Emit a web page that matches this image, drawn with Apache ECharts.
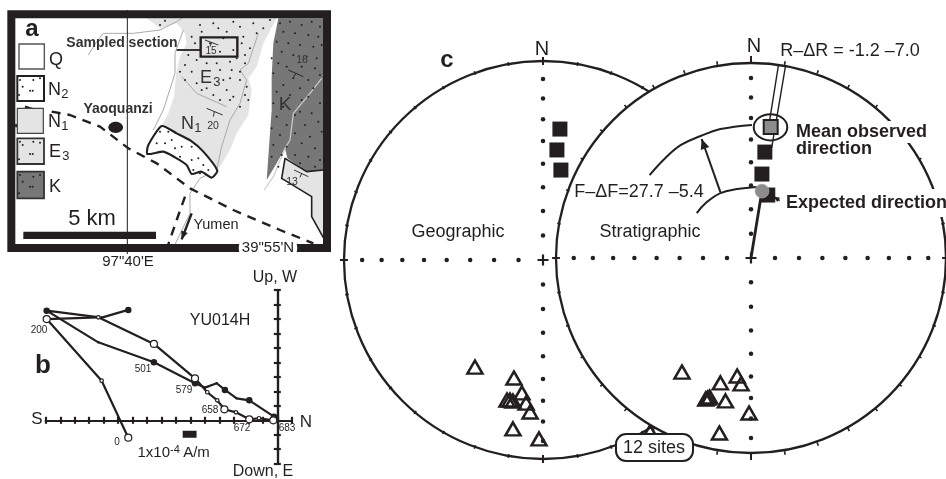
<!DOCTYPE html>
<html><head><meta charset="utf-8">
<style>html,body{margin:0;padding:0;background:#fff}#c{width:946px;height:479px}</style>
<script src="https://cdn.jsdelivr.net/npm/echarts@6/dist/echarts.min.js"></script>
</head><body><div id="c"></div>
<script>
// ---------- panel c: stereonet data, in percent of net radius (x east, y north) ----------
const stereoAxisTicks = [12.3, 24.6, 36.6, 48.4, 59.8, 70.7, 81.1, 90.9];
const rimAzimuths = [0,10,20,30,40,50,60,70,80,90,100,110,120,130,140,150,160,170,180,190,200,210,220,230,240,250,260,270,280,290,300,310,320,330,340,350];
const geoNormalSites = [[8.5,65.8],[7,55.3],[9,45.2]];
const geoReversedSites = [[-34.2,-53.8],[-14.6,-59.3],[-10.6,-66.8],[-18.1,-70.4],[-16.6,-70.4],[-15.1,-70.9],[-8.5,-71.9],[-6.5,-76.4],[-15.1,-84.9],[-2,-89.9],[53.8,-86.4]];
const stratNormalSites = [[7.1,53.5],[5.6,42.4],[8.6,31.8]];
const stratReversedSites = [[-35.4,-57.6],[-15.7,-63.1],[-7.1,-59.6],[-5.1,-63.6],[-23.2,-71.2],[-22.2,-70.7],[-21.2,-70.2],[-13.1,-72.2],[-1,-78.3],[-16.2,-88.4]];
const meanObserved = [[10.1,66.2]];
const expectedDir = [[5.6,33.8]];
const expectedLine = [[0,0],[5.6,33.8]];
const rotationLineA = [[14.1,97.5],[8.6,63.6]];
const rotationLineB = [[17.7,97],[10.6,55.6]];
const outerArc = [[-52,41.9],[-43.9,50.5],[-35.9,57.1],[-25.8,61.6],[-15.7,65.1],[0.5,67.2]];
const innerArc = [[-27.8,22.7],[-23.2,27.8],[-15.7,32.8],[-7.1,34.8],[3,35.9]];
const flatteningArrow = [[-15.7,33.3],[-25.3,60.1]];
const expectedLeader = [[14.7,29],[11.6,31]];

// ---------- panel b: Zijderveld diagram, units of 1e-4 A/m ----------
const horizontalPlane = [[-10.3,7.63],[-12.14,7.1],[-15.94,7.58],[-12.37,5.39],[-8.53,4.01],[-5.69,2.56],[-5,2.26],[-4.19,2.56],[-3.62,2.1],[-2.81,1.52],[-1.94,1.38],[-0.23,0.25]];
const horizontalBig = [1,0,1,0,1,1,0,0,1,0,1,1];
const verticalPlane = [[-10.3,-1.2],[-12.14,2.74],[-15.94,7],[-12.37,7.12],[-8.53,5.28],[-5.69,2.9],[-4.84,1.94],[-4.15,1.38],[-3.66,0.76],[-2.86,0.55],[-1.94,0.07],[-1.27,0.14],[-0.28,0]];
const verticalBig = [1,0,1,0,1,1,0,0,1,0,1,0,1];
const intensityBar = [[-6.54,-0.97],[-5.58,-0.97]];

// ---------- panel a: geological map, in map units ----------
const outcropN1E3 = [[440,55],[480,85],[530,70],[555,100],[560,130],[540,170],[528,220],[522,290],[505,340],[485,378],[570,420],[650,510],[660,500],[690,450],[710,400],[745,345],[755,270],[745,235],[770,200],[790,130],[830,55]];
const outcropN2 = [[485,378],[445,435],[442,462],[490,455],[525,472],[560,495],[575,522],[605,515],[635,533],[652,512],[610,455],[572,422],[530,400]];
const outcropK = [[835,55],[970,55],[970,510],[920,515],[862,475],[855,445],[830,490],[800,540],[805,470],[815,330],[815,230],[820,130]];
const outcropSE = [[855,475],[845,535],[935,590],[935,650],[970,713],[970,510],[920,515]];
const outcropSEedge = [[970,510],[920,515],[855,475],[845,535],[935,590],[935,650],[970,713]];
const faultMain = [[155,335],[210,345],[300,380],[385,445],[470,490],[570,565],[700,630],[840,690],[940,730]];
const faultBranch = [[555,590],[530,660],[505,733]];
const faultTipA = [[75,320],[100,328]];
const faultTipB = [[48,372],[50,382]];
const riverA = [[265,165],[290,125],[310,100],[400,100],[480,90],[530,65],[545,55]];
const riverB = [[460,390],[490,330],[525,220],[525,160],[550,90]];
const riverC = [[545,230],[590,280],[680,320]];
const riverD = [[775,100],[745,190],[720,210],[740,240],[720,310],[690,360],[665,440],[650,510],[600,535],[570,580],[570,640],[525,733]];
const riverE = [[965,235],[930,280],[880,340],[870,420],[855,445],[820,530],[793,570]];
const dotsE3 = [[480,75],[495,62],[600,75],[640,70],[655,85],[700,65],[720,80],[760,70],[790,85],[810,60],[575,110],[605,95],[680,95],[730,110],[770,100],[585,130],[725,130],[750,145],[735,165],[565,165],[590,180],[555,195],[575,215],[620,190],[650,190],[690,185],[710,175],[735,190],[540,215],[555,240],[590,250],[660,210],[695,210],[720,240],[670,240],[690,235],[720,215],[740,260],[620,265],[680,270],[700,290],[640,285],[735,285],[690,300],[720,320],[745,300],[660,300],[605,270],[670,115],[630,130],[660,155],[700,150]];
const dotsN2 = [[480,395],[505,395],[470,430],[495,430],[515,420],[545,440],[575,440],[540,470],[575,480],[595,475],[610,495],[580,510],[625,510],[525,445],[600,520]];
const dotsK = [[840,70],[870,65],[905,75],[935,65],[960,80],[850,95],[885,100],[925,105],[955,110],[830,125],[865,130],[900,135],[940,140],[965,135],[845,155],[815,175],[880,165],[920,170],[950,175],[835,190],[860,200],[905,200],[945,205],[820,220],[880,235],[925,240],[960,225],[850,255],[900,265],[830,275],[870,285],[940,265],[820,310],[905,300],[925,290],[850,320],[900,335],[960,310],[830,350],[885,345],[935,340],[815,385],[860,375],[915,375],[955,365],[840,405],[885,400],[930,410],[965,395],[820,435],[860,440],[905,430],[945,445],[815,470],[845,465],[885,465],[925,470],[960,480],[835,500],[900,490],[945,500]];
const dotsLegend = [[60,240],[68,260],[57,285],[90,272],[98,272],[120,235],[100,240],[60,425],[68,435],[57,478],[90,462],[98,462],[120,428],[100,425],[60,525],[68,545],[57,580],[90,560],[98,560],[120,525],[100,530]];
const strikeMarks = [[[620,325],[668,345]],[[643,335],[640,350]],[[865,210],[910,230]],[[888,220],[880,232]],[[882,510],[925,530]],[[905,520],[900,532]],[[615,120],[655,135]],[[635,127],[630,140]]];
const scaleBar = [[70,706],[468,706]];
const yumenArrow = [[575,640],[545,718]];
const meridian = [[382,30],[382,762]];
const sectionLeader = [[530,150],[600,150]];
const sectionBox = [[602,112],[712,112],[712,170],[602,170]];
const mapFrame = [[34,43],[981,43],[981,744],[34,744]];
const legendQ = [[57,132],[133,132],[133,207],[57,207]];
const legendN2 = [[52,228],[132,228],[132,303],[52,303]];
const legendN1 = [[52,325],[130,325],[130,400],[52,400]];
const legendE3 = [[52,415],[132,415],[132,492],[52,492]];
const legendK = [[52,515],[132,515],[132,595],[52,595]];
const townYaoquanzi = [[347,382,22,17]];
const meanEllipse = [[10,66,8.6,6.6]];

const INK = '#231f20', FONT = '"Liberation Sans",Arial,sans-serif';
const axMap = {xAxisIndex:0,yAxisIndex:0}, axZ = {xAxisIndex:1,yAxisIndex:1}, axL = {xAxisIndex:3,yAxisIndex:3}, axR = {xAxisIndex:4,yAxisIndex:4};

function poly(name,pts,ax,style,z,smooth){
  return Object.assign({type:'custom',name,z,silent:true,clip:false,data:pts,
    renderItem:(p,api)=>p.dataIndex!==0?null:{type:'polygon',shape:{points:pts.map(q=>api.coord(q)),smooth:smooth||0},style}},ax);
}
function line(name,pts,ax,width,color,z,opt){
  opt=opt||{};
  return Object.assign({type:'line',name,z,data:pts,silent:true,clip:false,symbol:'none',smooth:opt.smooth||false,animation:false,
    lineStyle:{width,color,type:opt.dash||'solid',cap:'butt',join:'round'}},ax);
}
// arrow = shaft + head; yUp says whether the axis grows upward, unitsPerPx converts the half head back along the shaft
function arrow(name,pts,ax,width,z,head,yUp,unitsPerPx){
  const dx=pts[1][0]-pts[0][0],dy=pts[1][1]-pts[0][1],len=Math.hypot(dx,dy);
  const back=head[1]/2*unitsPerPx;
  const at=[[pts[1][0]-dx/len*back,pts[1][1]-dy/len*back]];
  const rot=Math.atan2(-dx,yUp?dy:-dy)*180/Math.PI;
  return [line(name+' shaft',pts,ax,width,INK,z),
    Object.assign({type:'scatter',name:name+' head',z,data:at,symbol:'triangle',symbolSize:head,symbolRotate:rot,silent:true,clip:false,itemStyle:{color:INK,opacity:1}},ax)];
}
function dots(name,pts,ax,size,z){
  return Object.assign({type:'scatter',name,z,data:pts,symbol:'circle',symbolSize:size,silent:true,clip:false,itemStyle:{color:INK,opacity:1}},ax);
}
function marks(name,pts,ax,symbol,size,item,z){
  return Object.assign({type:'scatter',name,z,data:pts,symbol,symbolSize:size,silent:true,clip:false,itemStyle:Object.assign({opacity:1},item)},ax);
}
function ellipse(name,rows,ax,style,z){
  return Object.assign({type:'custom',name,z,silent:true,clip:false,data:rows,renderItem:(p,api)=>{
    const c=api.coord([api.value(0),api.value(1)]),s=api.size([api.value(2),api.value(3)]);
    return {type:'ellipse',shape:{cx:c[0],cy:c[1],rx:Math.abs(s[0]),ry:Math.abs(s[1])},style};
  }},ax);
}
function disc(name,ax,fill,z){
  return Object.assign({type:'custom',name,z,silent:true,clip:false,data:[[0,0,100]],renderItem:(p,api)=>{
    const c=api.coord([0,0]),r=Math.abs(api.size([100,0])[0]);
    return {type:'circle',shape:{cx:c[0],cy:c[1],r},style:{fill,stroke:INK,lineWidth:2.3}};
  }},ax);
}
function rim(name,ax,z){
  return Object.assign({type:'custom',name,z,silent:true,clip:false,data:rimAzimuths.map(a=>[a,0]),renderItem:(p,api)=>{
    const a=api.value(0)*Math.PI/180,d=(api.value(0)%90===0)?2.0:0.9;
    const s=Math.sin(a),c=Math.cos(a);
    const p1=api.coord([(100-d)*s,(100-d)*c]),p2=api.coord([(100+d)*s,(100+d)*c]);
    return {type:'line',shape:{x1:p1[0],y1:p1[1],x2:p2[0],y2:p2[1]},style:{stroke:INK,lineWidth:api.value(0)%90===0?2:1.6}};
  }},ax);
}
const axisDots = stereoAxisTicks.flatMap(r=>[[0,r],[0,-r],[r,0],[-r,0]]);
const PLUS = 'path://M4 0h2v4h4v2H6v4H4V6H0V4h4z';
const TRI = {color:'rgba(0,0,0,0)',borderColor:INK,borderWidth:2.5};

const hiddenAxis=(grid,min,max,inv)=>({gridIndex:grid,type:'value',min,max,show:false,inverse:!!inv,splitLine:{show:false}});
const zAxis=(grid,min,max,position)=>({gridIndex:grid,type:'value',min,max,interval:1,position,
  axisLine:{show:true,onZero:true,lineStyle:{color:INK,width:2.2}},axisTick:{show:true,length:3.5,lineStyle:{color:INK,width:2.2}},axisLabel:{show:false},splitLine:{show:false}});

function T(text,x,y,size,o){
  o=o||{};
  return {type:'text',x,y,z:100,silent:true,style:Object.assign({text,fontFamily:FONT,fontSize:size,fontWeight:o.bold?'bold':'normal',fill:o.fill||INK,
    align:o.align||'center',verticalAlign:'middle',backgroundColor:o.bg,padding:o.padding,borderRadius:o.radius},{})};
}
const chem=(a,b,x,y,size,o)=>[
  T(a,x,y,size,Object.assign({align:'left'},o)),
  T(b,x+size*0.73,y+size*0.24,size*0.72,Object.assign({align:'left'},o))];

const texts=[
  T('a',32,29,24,{bold:true}),T('b',43,366,26,{bold:true}),T('c',447,60,24,{bold:true}),
  T('Sampled section',122,43,14,{bold:true,fill:'#333'}),T('15',211,51,10,{fill:'#333'}),
  T('Q',49,60,18,{align:'left'}),...chem('N','2',48,90,18),...chem('N','1',48,122,18),...chem('E','3',49,152,18),T('K',49,187,18,{align:'left'}),
  T('Yaoquanzi',118,109,14,{bold:true,fill:'#333'}),...chem('E','3',200,78,18,{fill:'#333'}),...chem('N','1',181,124,18,{fill:'#333'}),
  T('20',213,126,10.5,{fill:'#333'}),T('16',302,60,10.5,{fill:'#333'}),T('13',292,182,10.5,{fill:'#333'}),T('K',285,105,19,{fill:'#333'}),
  T('5 km',92,219,22),T('Yumen',216,225,14.5),T('39"55\'N',268,248,15,{bg:'#fff',padding:[0,3,0,3],radius:6}),T('97"40\'E',128,262,15),
  T('S',37,419,17),T('N',306,422,17),T('Up, W',275,278,16),T('Down, E',263,472,16),T('YU014H',220,321,16),
  T('200',39,330,10),T('501',143,369,10),T('579',184,390,10),T('658',210,410,10),T('672',242,428,10),T('683',287,428,10),T('0',117,442,10),
  T('1x10',170,453,15,{align:'right'}),T('-4',170,450,11,{align:'left'}),T(' A/m',179,453,15,{align:'left'}),
  T('N',542,49,20),T('N',754,46,20),T('Geographic',458,232,18),T('Stratigraphic',650,232,18),
  T('F–ΔF=27.7 –5.4',639,192,18),T('R–ΔR = -1.2 –7.0',850,51,18),
  T('Mean observed',796,132,18,{bold:true,align:'left',bg:'#fff',padding:[1,0,3,0]}),T('direction',796,149,18,{bold:true,align:'left'}),
  T('Expected direction',786,203,18,{bold:true,align:'left',bg:'#fff',padding:[5,0,5,0]}),
  {type:'rect',z:99,silent:true,shape:{x:616,y:434,width:77,height:27,r:10},style:{fill:'#fff',stroke:INK,lineWidth:2}},
  T('12 sites',654,448,18)
];

const series=[
  // panel a
  poly('N1 and E3 outcrop',outcropN1E3,axMap,{fill:'#e4e4e4'},1),
  poly('K outcrop',outcropK,axMap,{fill:'#777'},1),
  poly('SE outcrop',outcropSE,axMap,{fill:'#e4e4e4'},1),
  line('SE outcrop edge',outcropSEedge,axMap,1.6,INK,2),
  line('River A',riverA,axMap,1,'#aaa',2),line('River B',riverB,axMap,1,'#aaa',2),line('River C',riverC,axMap,1,'#aaa',2),
  line('River D',riverD,axMap,1,'#aaa',2),line('River E',riverE,axMap,1.2,'#ccc',2),
  poly('N2 outcrop',outcropN2,axMap,{fill:'#fff',stroke:INK,lineWidth:2.1},3,0.2),
  line('Fault',faultMain,axMap,2.4,INK,4,{dash:[9,7]}),line('Fault branch',faultBranch,axMap,2.4,INK,4,{dash:[9,7]}),
  line('Fault tip A',faultTipA,axMap,2.4,INK,4),line('Fault tip B',faultTipB,axMap,2.4,INK,4),
  dots('E3 dots',dotsE3,axMap,2,5),dots('N2 dots',dotsN2,axMap,2,5),dots('K dots',dotsK,axMap,2,5),
  ...strikeMarks.map((m,i)=>line('Strike '+i,m,axMap,0.9,INK,5)),
  ellipse('Yaoquanzi',townYaoquanzi,axMap,{fill:INK},5),
  poly('Section box',sectionBox,axMap,{fill:'none',stroke:INK,lineWidth:2.4},6),
  line('Section leader',sectionLeader,axMap,1.8,INK,6),
  line('Scale bar',scaleBar,axMap,7.3,INK,6),
  ...arrow('Yumen arrow',yumenArrow,axMap,2.4,6,[7,8],false,3),
  poly('Legend Q',legendQ,axMap,{fill:'#fff',stroke:'#555',lineWidth:1.4},7),
  poly('Legend N2',legendN2,axMap,{fill:'#fff',stroke:INK,lineWidth:2},7),
  poly('Legend N1',legendN1,axMap,{fill:'#e4e4e4',stroke:'#444',lineWidth:1.2},7),
  poly('Legend E3',legendE3,axMap,{fill:'#e4e4e4',stroke:'#333',lineWidth:1.8},7),
  poly('Legend K',legendK,axMap,{fill:'#777',stroke:'#333',lineWidth:1.8},7),
  dots('Legend dots',dotsLegend,axMap,2,8),
  poly('Frame',mapFrame,axMap,{fill:'none',stroke:INK,lineWidth:8},9),
  line('Meridian',meridian,axMap,1,INK,10),

  // panel b
  line('Horizontal',horizontalPlane,axZ,2.2,INK,3),
  line('Vertical',verticalPlane,axZ,2.2,INK,3),
  line('Intensity bar',intensityBar,axZ,7,INK,3),
  Object.assign({type:'scatter',name:'Horizontal points',z:4,silent:true,data:horizontalPlane,symbol:'circle',
    symbolSize:(v,p)=>horizontalBig[p.dataIndex]?6.5:2.5,itemStyle:{color:INK,opacity:1}},axZ),
  Object.assign({type:'scatter',name:'Vertical points',z:5,silent:true,data:verticalPlane,symbol:'circle',
    symbolSize:(v,p)=>verticalBig[p.dataIndex]?7:3.5,itemStyle:{color:'#fff',borderColor:INK,borderWidth:1.2,opacity:1}},axZ),

  // panel c, left net
  disc('Geographic net',axL,'#fff',11),rim('Geographic rim',axL,12),
  marks('Geographic centre',[[0,0]],axL,PLUS,11,{color:INK},13),
  dots('Geographic axes',axisDots,axL,4.5,13),
  marks('Geographic normal',geoNormalSites,axL,'rect',15,{color:INK},14),
  marks('Geographic reversed',geoReversedSites,axL,'triangle',[15,13],TRI,14),

  // panel c, right net
  disc('Stratigraphic net',axR,'#fff',20),rim('Stratigraphic rim',axR,21),
  marks('Stratigraphic centre',[[0,0]],axR,PLUS,11,{color:INK},22),
  dots('Stratigraphic axes',axisDots,axR,4.5,22),
  line('Rotation A',rotationLineA,axR,1.4,INK,23),line('Rotation B',rotationLineB,axR,1.4,INK,23),
  line('Expected line',expectedLine,axR,2.8,INK,23),
  line('Outer arc',outerArc,axR,2,INK,23,{smooth:0.4}),line('Inner arc',innerArc,axR,2,INK,23,{smooth:0.4}),
  ...arrow('Flattening arrow',flatteningArrow,axR,2,28,[9,10],true,0.505),
  ...arrow('Expected leader',expectedLeader,axR,1.4,28,[5,6],true,0.505),
  marks('Stratigraphic normal',stratNormalSites,axR,'rect',15,{color:INK},24),
  marks('Stratigraphic reversed',stratReversedSites,axR,'triangle',[15,13],TRI,24),
  ellipse('Mean ellipse',meanEllipse,axR,{fill:'none',stroke:INK,lineWidth:2},25),
  marks('Mean observed',meanObserved,axR,'rect',14,{color:'#8c8c8c',borderColor:INK,borderWidth:2},26),
  marks('Expected',expectedDir,axR,'circle',14,{color:'#8c8c8c',borderColor:'#bbb',borderWidth:0.6},26)
];

const chart=echarts.init(document.getElementById('c'),null,{renderer:'canvas'});
chart.setOption({
  animation:false,backgroundColor:'#fff',
  grid:[
    {left:0,top:0,width:340,height:270},
    {left:45.8,top:290.1,width:246,height:173.6},
    {left:344,top:61,width:398,height:398},
    {left:556,top:60,width:396,height:396}
  ],
  xAxis:[hiddenAxis(0,0,1020),zAxis(1,-16,1,'bottom'),zAxis(1,-16,1,'top'),hiddenAxis(2,-100,100),hiddenAxis(3,-100,100)],
  yAxis:[hiddenAxis(0,0,810,true),zAxis(1,-3,9,'left'),zAxis(1,-3,9,'right'),hiddenAxis(2,-100,100),hiddenAxis(3,-100,100)],
  graphic:{elements:texts},
  series
});
</script></body></html>
